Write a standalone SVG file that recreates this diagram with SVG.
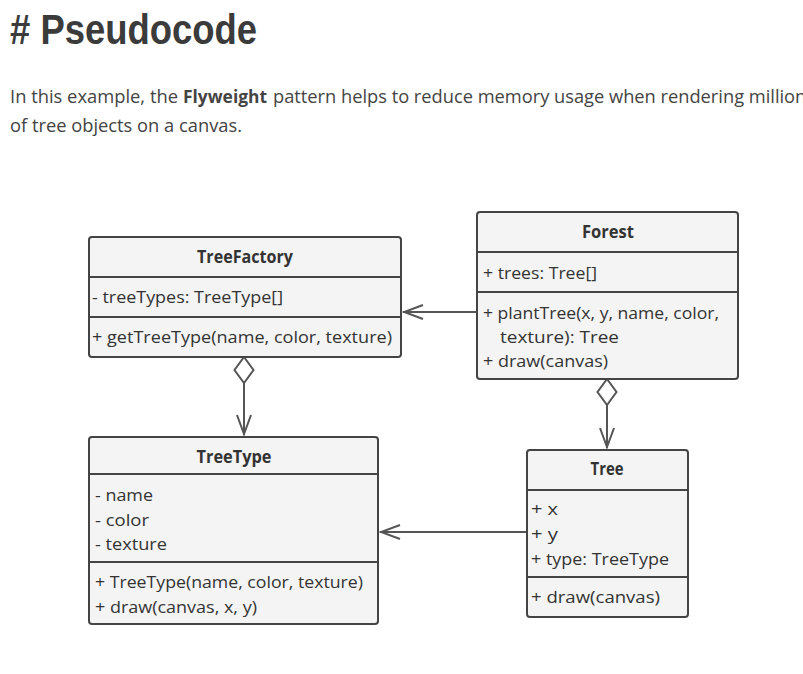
<svg xmlns="http://www.w3.org/2000/svg" width="803" height="674" viewBox="0 0 803 674">
<style>
.title{font-family:"Liberation Sans Narrow","Liberation Sans",sans-serif;font-weight:bold;font-size:43px;fill:#3b3b3b}
.para{font-family:"Open Sans","Liberation Sans",sans-serif;font-size:18px;fill:#444}
.box{fill:#f4f4f4;stroke:#444;stroke-width:2}
.sep{stroke:#444;stroke-width:2}
.hd{font-family:"Open Sans","Liberation Sans",sans-serif;font-weight:bold;font-size:17px;fill:#333;text-anchor:middle}
.tx{font-family:"Open Sans","Liberation Sans",sans-serif;font-size:17px;fill:#333}
.con{fill:none;stroke:#555;stroke-width:2}
</style>
<defs>
<marker id="open" viewBox="0 0 22 16" refX="21" refY="8" markerWidth="22" markerHeight="16" orient="auto" markerUnits="userSpaceOnUse">
<path d="M1,1 L20,8 L1,15" fill="none" stroke="#555" stroke-width="2"/>
</marker>
<marker id="dia" viewBox="0 0 28 22" refX="1" refY="11" markerWidth="28" markerHeight="22" orient="auto" markerUnits="userSpaceOnUse">
<path d="M1,11 L14,1.5 L27,11 L14,20.5 Z" fill="#fff" stroke="#555" stroke-width="2"/>
</marker>
</defs>
<rect width="803" height="674" fill="#fff"/>
<text class="title" x="10" y="44" textLength="247" lengthAdjust="spacingAndGlyphs"># Pseudocode</text>
<text class="para" x="10" y="103" textLength="168" lengthAdjust="spacingAndGlyphs">In this example, the</text>
<text class="para" x="183" y="103" font-weight="bold" textLength="84" lengthAdjust="spacingAndGlyphs">Flyweight</text>
<text class="para" x="273" y="103" textLength="542" lengthAdjust="spacingAndGlyphs">pattern helps to reduce memory usage when rendering millions</text>
<text class="para" x="10" y="132" textLength="232" lengthAdjust="spacingAndGlyphs">of tree objects on a canvas.</text>

<g id="connectors">
<path class="con" d="M477,312 L403,312" marker-end="url(#open)"/>
<path class="con" d="M526,532 L380,532" marker-end="url(#open)"/>
<path class="con" d="M244,357 L244,435" marker-start="url(#dia)" marker-end="url(#open)"/>
<path class="con" d="M607,379 L607,448" marker-start="url(#dia)" marker-end="url(#open)"/>
</g>

<g id="TreeFactory">
<rect class="box" x="89" y="237" width="312" height="120" rx="3"/>
<line class="sep" x1="89" y1="277" x2="401" y2="277"/>
<line class="sep" x1="89" y1="317" x2="401" y2="317"/>
<text class="hd" x="245" y="263" textLength="96" lengthAdjust="spacingAndGlyphs">TreeFactory</text>
<text class="tx" x="92" y="303" textLength="191" lengthAdjust="spacingAndGlyphs">- treeTypes: TreeType[]</text>
<text class="tx" x="92" y="343" textLength="300" lengthAdjust="spacingAndGlyphs">+ getTreeType(name, color, texture)</text>
</g>

<g id="Forest">
<rect class="box" x="477" y="212" width="261" height="167" rx="3"/>
<line class="sep" x1="477" y1="252" x2="738" y2="252"/>
<line class="sep" x1="477" y1="292" x2="738" y2="292"/>
<text class="hd" x="608" y="238" textLength="52" lengthAdjust="spacingAndGlyphs">Forest</text>
<text class="tx" x="483" y="279" textLength="114" lengthAdjust="spacingAndGlyphs">+ trees: Tree[]</text>
<text class="tx" x="483" y="319" textLength="236" lengthAdjust="spacingAndGlyphs">+ plantTree(x, y, name, color,</text>
<text class="tx" x="500" y="343" textLength="119" lengthAdjust="spacingAndGlyphs">texture): Tree</text>
<text class="tx" x="483" y="367" textLength="125" lengthAdjust="spacingAndGlyphs">+ draw(canvas)</text>
</g>

<g id="TreeType">
<rect class="box" x="89" y="437" width="289" height="187" rx="3"/>
<line class="sep" x1="89" y1="474" x2="378" y2="474"/>
<line class="sep" x1="89" y1="562" x2="378" y2="562"/>
<text class="hd" x="234" y="463" textLength="75" lengthAdjust="spacingAndGlyphs">TreeType</text>
<text class="tx" x="95" y="501" textLength="58" lengthAdjust="spacingAndGlyphs">- name</text>
<text class="tx" x="95" y="526" textLength="54" lengthAdjust="spacingAndGlyphs">- color</text>
<text class="tx" x="95" y="550" textLength="72" lengthAdjust="spacingAndGlyphs">- texture</text>
<text class="tx" x="95" y="588" textLength="268" lengthAdjust="spacingAndGlyphs">+ TreeType(name, color, texture)</text>
<text class="tx" x="95" y="613" textLength="162" lengthAdjust="spacingAndGlyphs">+ draw(canvas, x, y)</text>
</g>

<g id="Tree">
<rect class="box" x="527" y="450" width="161" height="167" rx="3"/>
<line class="sep" x1="527" y1="490" x2="688" y2="490"/>
<line class="sep" x1="527" y1="577" x2="688" y2="577"/>
<text class="hd" x="607" y="475" textLength="33" lengthAdjust="spacingAndGlyphs">Tree</text>
<text class="tx" x="531" y="515" textLength="27" lengthAdjust="spacingAndGlyphs">+ x</text>
<text class="tx" x="531" y="540" textLength="27" lengthAdjust="spacingAndGlyphs">+ y</text>
<text class="tx" x="531" y="565" textLength="138" lengthAdjust="spacingAndGlyphs">+ type: TreeType</text>
<text class="tx" x="531" y="603" textLength="129" lengthAdjust="spacingAndGlyphs">+ draw(canvas)</text>
</g>
</svg>
